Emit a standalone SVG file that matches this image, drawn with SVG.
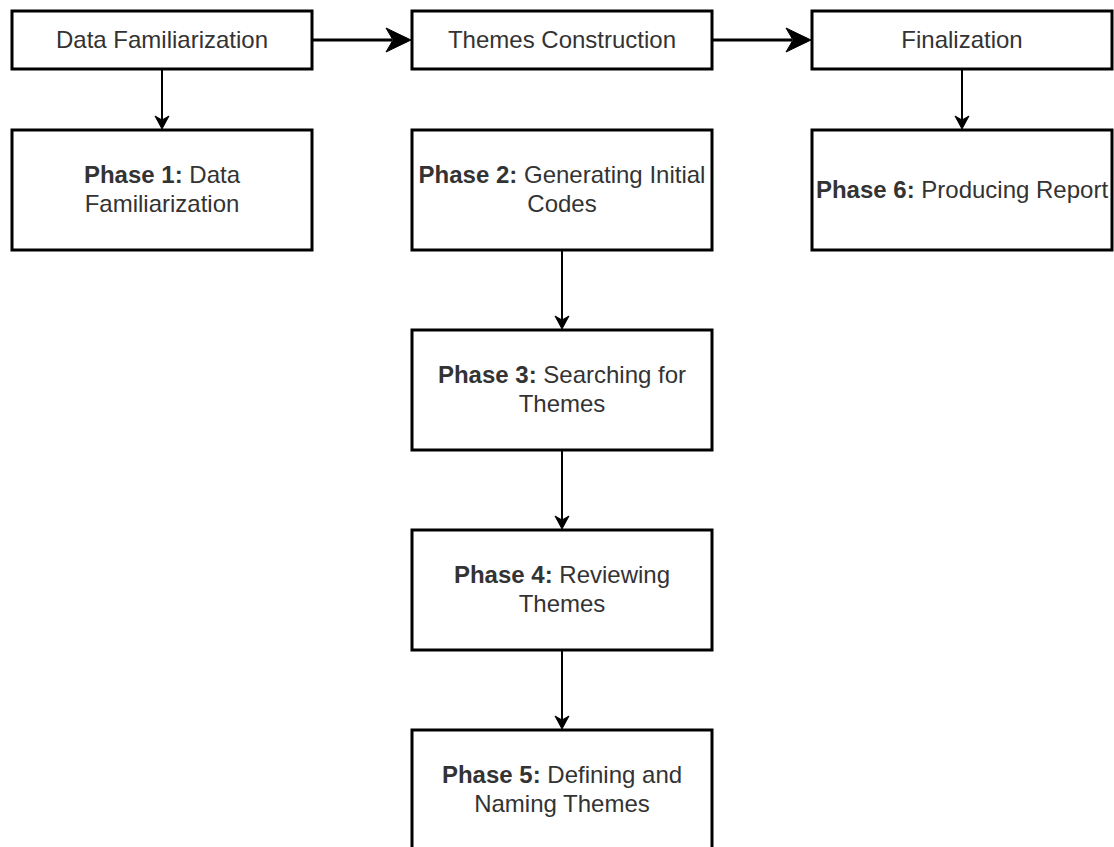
<svg xmlns="http://www.w3.org/2000/svg" width="1114" height="847" viewBox="0 0 1114 847">
<style>
.box{fill:#fff;stroke:#000;stroke-width:3}
.t{font-family:"Liberation Sans",Arial,sans-serif;font-size:24px;fill:#333;text-anchor:middle}
.b{font-weight:bold}
.thin{stroke:#000;stroke-width:2;fill:none}
.thick{stroke:#000;stroke-width:3;fill:none}
.ah{fill:#000;stroke:#000;stroke-width:1}
</style>
<rect width="1114" height="847" fill="#fff"/>
<g id="connectors">
<line class="thick" x1="312" y1="40" x2="392" y2="40"/>
<path class="ah" d="M411,40 L386,28 L393,40 L386,52 Z"/>
<line class="thick" x1="712" y1="40" x2="792" y2="40"/>
<path class="ah" d="M811,40 L786,28 L793,40 L786,52 Z"/>
<line class="thin" x1="162" y1="69" x2="162" y2="120"/>
<path class="ah" d="M162,129 L155,116 L162,120 L169,116 Z"/>
<line class="thin" x1="962" y1="69" x2="962" y2="120"/>
<path class="ah" d="M962,129 L955,116 L962,120 L969,116 Z"/>
<line class="thin" x1="562" y1="250" x2="562" y2="320"/>
<path class="ah" d="M562,329 L555,316 L562,320 L569,316 Z"/>
<line class="thin" x1="562" y1="450" x2="562" y2="520"/>
<path class="ah" d="M562,529 L555,516 L562,520 L569,516 Z"/>
<line class="thin" x1="562" y1="650" x2="562" y2="720"/>
<path class="ah" d="M562,729 L555,716 L562,720 L569,716 Z"/>
</g>
<g id="data-familiarization">
<rect class="box" x="12" y="11" width="300" height="58"/>
<text class="t" x="162" y="48">Data Familiarization</text>
</g>
<g id="themes-construction">
<rect class="box" x="412" y="11" width="300" height="58"/>
<text class="t" x="562" y="48">Themes Construction</text>
</g>
<g id="finalization">
<rect class="box" x="812" y="11" width="300" height="58"/>
<text class="t" x="962" y="48">Finalization</text>
</g>
<g id="phase1">
<rect class="box" x="12" y="130" width="300" height="120"/>
<text class="t" x="162" y="183"><tspan class="b">Phase 1:</tspan> Data</text>
<text class="t" x="162" y="212">Familiarization</text>
</g>
<g id="phase2">
<rect class="box" x="412" y="130" width="300" height="120"/>
<text class="t" x="562" y="183"><tspan class="b">Phase 2:</tspan> Generating Initial</text>
<text class="t" x="562" y="212">Codes</text>
</g>
<g id="phase6">
<rect class="box" x="812" y="130" width="300" height="120"/>
<text class="t" x="962" y="198"><tspan class="b">Phase 6:</tspan> Producing Report</text>
</g>
<g id="phase3">
<rect class="box" x="412" y="330" width="300" height="120"/>
<text class="t" x="562" y="383"><tspan class="b">Phase 3:</tspan> Searching for</text>
<text class="t" x="562" y="412">Themes</text>
</g>
<g id="phase4">
<rect class="box" x="412" y="530" width="300" height="120"/>
<text class="t" x="562" y="583"><tspan class="b">Phase 4:</tspan> Reviewing</text>
<text class="t" x="562" y="612">Themes</text>
</g>
<g id="phase5">
<rect class="box" x="412" y="730" width="300" height="120"/>
<text class="t" x="562" y="783"><tspan class="b">Phase 5:</tspan> Defining and</text>
<text class="t" x="562" y="812">Naming Themes</text>
</g>
</svg>
